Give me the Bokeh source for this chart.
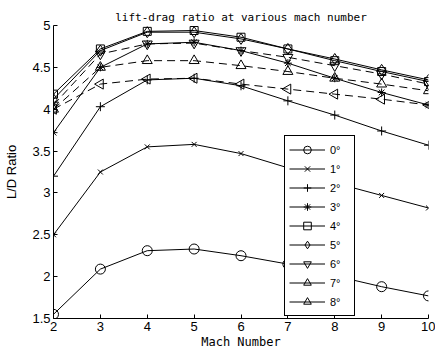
import math
from bokeh.plotting import figure
from bokeh.models import Legend, LegendItem, ColumnDataSource, Range1d, FixedTicker, Title
from bokeh.embed import file_html
from bokeh.resources import INLINE

title_text = "lift-drag ratio at various mach number"
x_label = "Mach Number"
y_label = "L/D Ratio"

mach = [2, 3, 4, 5, 6, 7, 8, 9, 10]
a0 = [1.55, 2.09, 2.31, 2.33, 2.25, 2.15, 2.01, 1.88, 1.77]
a1 = [2.50, 3.25, 3.55, 3.58, 3.47, 3.30, 3.12, 2.97, 2.82]
a2 = [3.20, 4.03, 4.35, 4.37, 4.28, 4.10, 3.93, 3.74, 3.57]
a3 = [3.72, 4.50, 4.78, 4.80, 4.70, 4.55, 4.37, 4.20, 4.05]
a4 = [4.18, 4.72, 4.93, 4.94, 4.86, 4.72, 4.58, 4.45, 4.33]
a5 = [4.12, 4.70, 4.92, 4.92, 4.84, 4.72, 4.60, 4.47, 4.35]
a6 = [4.05, 4.66, 4.78, 4.79, 4.70, 4.62, 4.52, 4.42, 4.30]
a7 = [4.00, 4.50, 4.58, 4.58, 4.52, 4.45, 4.37, 4.30, 4.22]
a8 = [4.00, 4.30, 4.36, 4.37, 4.30, 4.24, 4.18, 4.12, 4.05]

labels = ["0°", "1°", "2°", "3°", "4°", "5°", "6°", "7°", "8°"]
values = [a0, a1, a2, a3, a4, a5, a6, a7, a8]

x_ticks = [2, 3, 4, 5, 6, 7, 8, 9, 10]
y_ticks = [1.5, 2, 2.5, 3, 3.5, 4, 4.5, 5]
y_tick_labels = ["1.5", "2", "2.5", "3", "3.5", "4", "4.5", "5"]

# style per series: marker, size, angle, dash
styles = [
    ("circle", 10, 0.0, "solid"),
    ("x", 7, 0.0, "solid"),
    ("cross", 9, 0.0, "solid"),
    ("asterisk", 8, 0.0, "solid"),
    ("square", 8, 0.0, "solid"),
    ("diamond", 11, 0.0, "solid"),
    ("inverted_triangle", 10, 0.0, "8 5"),
    ("triangle", 10, 0.0, "8 5"),
    ("triangle", 10, math.pi / 2, "8 5"),
]

p = figure(width=435, height=353, output_backend="svg", toolbar_location=None,
           x_range=Range1d(2, 10), y_range=Range1d(1.5, 5),
           min_border_left=53, min_border_right=7, min_border_top=25, min_border_bottom=35)
p.title = Title(text=title_text, align="center", text_font="DejaVu Sans Mono",
                text_font_size="11px", text_font_style="normal", standoff=3,
                text_color="black")
p.outline_line_color = None
p.grid.visible = False
p.background_fill_color = "white"
p.border_fill_color = "white"

for ax in (p.xaxis[0], p.yaxis[0]):
    ax.major_tick_in = 4
    ax.major_tick_out = 0
    ax.minor_tick_line_color = None
    ax.axis_line_color = "black"
    ax.major_tick_line_color = "black"
    ax.major_label_text_font = "Liberation Sans"
    ax.major_label_text_font_size = "13px"
    ax.major_label_text_color = "black"
    ax.major_label_standoff = 3
    ax.axis_label_text_color = "black"

p.xaxis.ticker = FixedTicker(ticks=x_ticks)
p.yaxis.ticker = FixedTicker(ticks=y_ticks)
p.yaxis.major_label_overrides = {t: l for t, l in zip(y_ticks, y_tick_labels)}
p.xaxis.axis_label = x_label
p.xaxis.axis_label_text_font = "DejaVu Sans Mono"
p.xaxis.axis_label_text_font_size = "12px"
p.xaxis.axis_label_text_font_style = "normal"
p.xaxis.axis_label_standoff = 1
p.yaxis.axis_label = y_label
p.yaxis.axis_label_text_font = "Liberation Sans"
p.yaxis.axis_label_text_font_size = "13px"
p.yaxis.axis_label_text_font_style = "normal"
p.yaxis.axis_label_standoff = 10

items = []
for lab, vals, (mk, sz, ang, dash) in zip(labels, values, styles):
    src = ColumnDataSource(dict(x=mach, y=vals))
    p.line("x", "y", source=src, line_color="black", line_width=1, line_dash=dash)
    p.scatter("x", "y", source=src, marker=mk, size=sz, angle=ang,
              line_color="black", fill_color=None, line_width=1)
    proxy = ColumnDataSource(dict(x=[float("nan")], y=[float("nan")]))
    lr = p.line("x", "y", source=proxy, line_color="black", line_width=1)
    sr = p.scatter("x", "y", source=proxy, marker=mk, size=sz, angle=ang,
                   line_color="black", fill_color=None, line_width=1)
    items.append(LegendItem(label=lab, renderers=[lr, sr]))

legend = Legend(items=items, location=(231, 2), padding=4, spacing=0,
                glyph_width=36, glyph_height=19, label_height=16, label_standoff=5,
                margin=0, border_line_color="black", border_line_width=1,
                border_line_alpha=1, background_fill_color="white",
                background_fill_alpha=1, label_text_font="Liberation Sans",
                label_text_font_size="11px", label_text_color="black")
p.add_layout(legend, "center")

open("out.html", "w").write(file_html(p, INLINE))
